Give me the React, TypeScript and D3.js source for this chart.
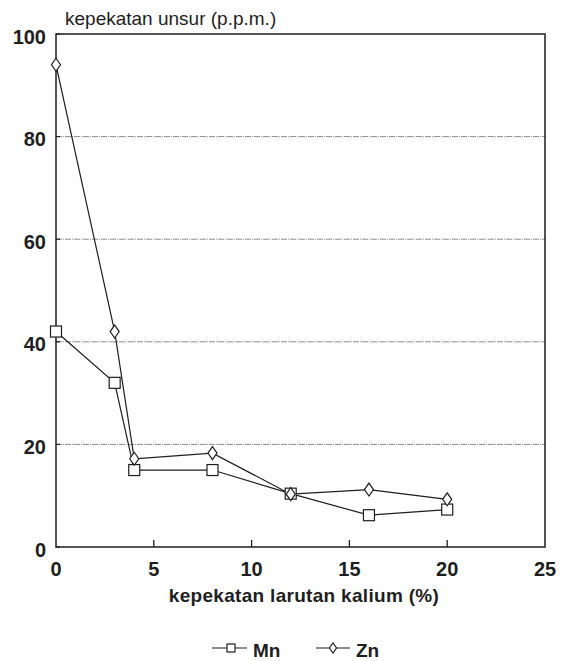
import React from "react";
import * as d3 from "d3";

const xValues = [0, 3, 4, 8, 12, 16, 20];
const mnValues = [42, 32, 15, 15, 10.4, 6.2, 7.3];
const znValues = [94, 42, 17.2, 18.3, 10.3, 11.2, 9.3];
const xTicks = [0, 5, 10, 15, 20, 25];
const yTicks = [0, 20, 40, 60, 80, 100];
const gridValues = [20, 40, 60, 80];
const seriesNames = ["Mn", "Zn"];
const titleText = "kepekatan unsur (p.p.m.)";
const xLabelText = "kepekatan larutan kalium (%)";

const W = 561;
const H = 661;
const L = 56;
const R = 545;
const T = 34;
const B = 547;

const ink = "#1e1e1e";
const font = "'Liberation Sans', Arial, sans-serif";

function Square({ x, y, s = 11 }: { x: number; y: number; s?: number }) {
  return <rect x={x - s / 2} y={y - s / 2} width={s} height={s} fill="white" stroke={ink} strokeWidth={1.2} />;
}
function Diamond({ x, y, w = 4.5, h = 6.5 }: { x: number; y: number; w?: number; h?: number }) {
  return (
    <path
      d={`M${x},${y - h}L${x + w},${y}L${x},${y + h}L${x - w},${y}Z`}
      fill="white"
      stroke={ink}
      strokeWidth={1.2}
    />
  );
}

export default function App() {
  const x = d3.scaleLinear().domain([0, 25]).range([L, R]);
  const y = d3.scaleLinear().domain([0, 100]).range([B, T]);
  const line = d3
    .line<[number, number]>()
    .x((d) => x(d[0]))
    .y((d) => y(d[1]));
  const mn: [number, number][] = xValues.map((v, i) => [v, mnValues[i]]);
  const zn: [number, number][] = xValues.map((v, i) => [v, znValues[i]]);

  return (
    <svg width={W} height={H} style={{ position: "absolute", left: 0, top: 0, background: "white" }}>
      <rect x={0} y={0} width={W} height={H} fill="white" />
      {gridValues.map((g) => (
        <line
          key={g}
          x1={L}
          x2={R}
          y1={y(g)}
          y2={y(g)}
          stroke="#8a8a8a"
          strokeWidth={1}
          strokeDasharray="6,1,1,1"
        />
      ))}
      <rect x={L} y={T} width={R - L} height={B - T} fill="none" stroke={ink} strokeWidth={1.5} />
      {xTicks.slice(1, -1).map((t) => (
        <line key={t} x1={x(t)} x2={x(t)} y1={B} y2={B - 7} stroke={ink} strokeWidth={1.3} />
      ))}
      {yTicks.map((t) => (
        <line key={t} x1={L} x2={L + 4} y1={y(t)} y2={y(t)} stroke={ink} strokeWidth={1.2} />
      ))}
      {xTicks.map((t) => (
        <text
          key={t}
          x={x(t)}
          y={576}
          textAnchor="middle"
          fontFamily={font}
          fontWeight="bold"
          fontSize={20}
          fill={ink}
        >
          {t}
        </text>
      ))}
      {yTicks.map((t) => (
        <text
          key={t}
          x={46}
          y={y(t) + 9.5}
          textAnchor="end"
          fontFamily={font}
          fontWeight="bold"
          fontSize={20}
          fill={ink}
        >
          {t}
        </text>
      ))}
      <text x={65} y={25} fontFamily={font} fontSize={19} fill={ink}>
        {titleText}
      </text>
      <text x={304} y={602} textAnchor="middle" fontFamily={font} fontWeight="bold" fontSize={19} letterSpacing={0.3} fill={ink}>
        {xLabelText}
      </text>
      <path d={line(mn) || ""} fill="none" stroke={ink} strokeWidth={1.2} />
      <path d={line(zn) || ""} fill="none" stroke={ink} strokeWidth={1.2} />
      {mn.map((d, i) => (
        <Square key={"m" + i} x={x(d[0])} y={y(d[1])} />
      ))}
      {zn.map((d, i) => (
        <Diamond key={"z" + i} x={x(d[0])} y={y(d[1])} />
      ))}
      {/* legend */}
      <g>
        <line x1={212} x2={247} y1={648} y2={648} stroke={ink} strokeWidth={1.2} />
        <Square x={231} y={648} s={8} />
        <text x={253} y={657} fontFamily={font} fontWeight="bold" fontSize={19} fill={ink}>
          {seriesNames[0]}
        </text>
        <line x1={316} x2={350} y1={648} y2={648} stroke={ink} strokeWidth={1.2} />
        <Diamond x={333} y={648} w={3.5} h={5} />
        <text x={356} y={657} fontFamily={font} fontWeight="bold" fontSize={19} fill={ink}>
          {seriesNames[1]}
        </text>
      </g>
    </svg>
  );
}
